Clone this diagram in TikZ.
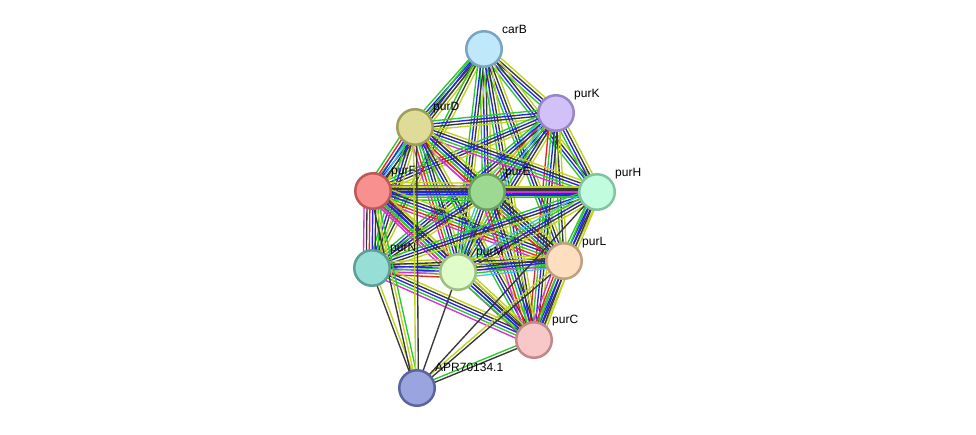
\documentclass[tikz,border=0pt]{standalone}
\usepackage{fontspec}
\setmainfont{Liberation Sans}
\usetikzlibrary{calc}
% evidence colours
\definecolor{cy}{RGB}{60,200,225}
\definecolor{mg}{RGB}{215,50,215}
\definecolor{rd}{RGB}{235,35,35}
\definecolor{gn}{RGB}{45,200,45}
\definecolor{bl}{RGB}{35,35,235}
\definecolor{bk}{RGB}{55,55,55}
\definecolor{yl}{RGB}{190,210,30}
% node colours
\definecolor{carBf}{RGB}{192,232,251}\definecolor{carBd}{RGB}{122,164,192}
\definecolor{purKf}{RGB}{210,192,248}\definecolor{purKd}{RGB}{152,134,200}
\definecolor{purDf}{RGB}{222,220,150}\definecolor{purDd}{RGB}{160,158,92}
\definecolor{purFf}{RGB}{249,144,144}\definecolor{purFd}{RGB}{190,88,88}
\definecolor{purEf}{RGB}{158,217,145}\definecolor{purEd}{RGB}{104,160,96}
\definecolor{purHf}{RGB}{194,252,222}\definecolor{purHd}{RGB}{128,196,160}
\definecolor{purNf}{RGB}{151,222,214}\definecolor{purNd}{RGB}{90,160,151}
\definecolor{purMf}{RGB}{224,252,200}\definecolor{purMd}{RGB}{160,192,128}
\definecolor{purLf}{RGB}{253,223,192}\definecolor{purLd}{RGB}{192,160,128}
\definecolor{purCf}{RGB}{248,200,200}\definecolor{purCd}{RGB}{192,136,136}
\definecolor{aprf}{RGB}{154,164,222}\definecolor{aprd}{RGB}{90,100,160}
\pgfdeclarelayer{bg}
\pgfsetlayers{bg,main}

% one bundle of parallel evidence lines between two nodes
\newcommand{\strlink}[3]{%
	\foreach \lc [count=\i] in {#3} {\xdef\nlinks{\i}}%
	\foreach \lc [count=\i] in {#3} {%
		\pgfmathsetmacro{\off}{(\i-(\nlinks+1)/2)*2.9}%
		\draw[link, draw=\lc] ($(#1)!\off pt!90:(#2)$) -- ($(#2)!\off pt!-90:(#1)$);%
	}%
}

\begin{document}
\begin{tikzpicture}[x=1pt, y=-1pt]
		\tikzstyle{prot}=[circle, line width=2.5pt, minimum size=35.5pt, inner sep=0pt]
		\tikzstyle{lbl}=[anchor=base west, inner sep=0pt, font=\fontsize{12}{14}\selectfont]
		\tikzstyle{link}=[line width=1.35pt]

		\useasboundingbox (0,0) rectangle (976,434);

		\node[prot, fill=carBf, draw=carBd](carB) at (484,49) {};
		\node[prot, fill=purKf, draw=purKd](purK) at (556,113) {};
		\node[prot, fill=purDf, draw=purDd](purD) at (415,127) {};
		\node[prot, fill=purFf, draw=purFd](purF) at (373,191) {};
		\node[prot, fill=purEf, draw=purEd](purE) at (487,192) {};
		\node[prot, fill=purHf, draw=purHd](purH) at (597,192) {};
		\node[prot, fill=purNf, draw=purNd](purN) at (372,268) {};
		\node[prot, fill=purMf, draw=purMd](purM) at (458,272) {};
		\node[prot, fill=purLf, draw=purLd](purL) at (564,261) {};
		\node[prot, fill=purCf, draw=purCd](purC) at (534,340) {};
		\node[prot, fill=aprf, draw=aprd](apr) at (417,388) {};

		% labels
		\node[lbl](carBl) at ([shift={(18,-16)}]carB.center) {carB};
		\node[lbl](purKl) at ([shift={(18,-16)}]purK.center) {purK};
		\node[lbl](purDl) at ([shift={(18,-17)}]purD.center) {purD};
		\node[lbl](purFl) at ([shift={(18,-17)}]purF.center) {purF};
		\node[lbl](purEl) at ([shift={(18,-17)}]purE.center) {purE};
		\node[lbl](purHl) at ([shift={(18,-16)}]purH.center) {purH};
		\node[lbl](purNl) at ([shift={(18,-17)}]purN.center) {purN};
		\node[lbl](purMl) at ([shift={(18,-17)}]purM.center) {purM};
		\node[lbl](purLl) at ([shift={(18,-16)}]purL.center) {purL};
		\node[lbl](purCl) at ([shift={(18,-17)}]purC.center) {purC};
		\node[lbl](aprl) at ([shift={(18,-17)}]apr.center) {APR70134.1};

		\begin{pgfonlayer}{bg}
			% carB
			\strlink{carB}{purK}{gn,bl,bk,yl}
			\strlink{carB}{purD}{gn,bl,bk,yl}
			\strlink{carB}{purF}{gn,bl,bk,yl}
			\strlink{carB}{purE}{gn,bl,bk,yl}
			\strlink{carB}{purH}{gn,bl,bk,yl}
			\strlink{carB}{purN}{gn,bk,yl}
			\strlink{carB}{purM}{gn,bl,bk,yl}
			\strlink{carB}{purL}{gn,bl,bk,yl}
			\strlink{carB}{purC}{gn,bl,bk,yl}

			% purK
			\strlink{purK}{purD}{gn,bl,bk,yl}
			\strlink{purK}{purF}{gn,bl,bk,yl}
			\strlink{purK}{purE}{cy,rd,gn,bl,bk,yl}
			\strlink{purK}{purH}{gn,bl,bk,yl}
			\strlink{purK}{purN}{gn,bl,bk,yl}
			\strlink{purK}{purM}{cy,gn,bl,bk,yl}
			\strlink{purK}{purL}{gn,bk,yl}
			\strlink{purK}{purC}{rd,gn,bl,bk,yl}

			% purD
			\strlink{purD}{purF}{gn,rd,bl,cy,bk,yl}
			\strlink{purD}{purE}{mg,rd,gn,bl,bk,yl}
			\strlink{purD}{purH}{mg,gn,bl,bk,yl}
			\strlink{purD}{purN}{gn,bl,bk,yl}
			\strlink{purD}{purM}{mg,rd,gn,bl,bk,yl}
			\strlink{purD}{purL}{mg,rd,gn,bl,bk,yl}
			\strlink{purD}{purC}{gn,bl,bk,yl}

			% purF
			\strlink{purF}{purE}{gn,gn,bl,bk,bk,mg,yl}
			\strlink{purF}{purH}{gn,bl,bk,yl}
			\strlink{purF}{purN}{mg,bk,rd,bl,bk,gn,yl}
			\strlink{purF}{purM}{mg,rd,gn,bl,bk,yl}
			\strlink{purF}{purL}{mg,rd,gn,bl,bk,yl}
			\strlink{purF}{purC}{mg,gn,bl,bk,yl}

			% purE
			\strlink{purE}{purH}{gn,bl,mg,bk,yl}
			\strlink{purE}{purN}{gn,bl,bk,yl}
			\strlink{purE}{purM}{cy,gn,bl,bk,yl}
			\strlink{purE}{purL}{rd,gn,bl,bk,bk,yl}
			\strlink{purE}{purC}{mg,rd,gn,bl,bk,yl}

			% purH
			\strlink{purH}{purN}{gn,bl,bk,yl}
			\strlink{purH}{purM}{cy,gn,bl,bk,yl}
			\strlink{purH}{purL}{gn,bl,bk,yl}
			\strlink{purH}{purC}{gn,bl,bk,yl}

			% purN, purM, purL
			\strlink{purN}{purM}{rd,gn,bl,bk,yl}
			\strlink{purN}{purL}{mg,gn,bl,bk,yl}
			\strlink{purN}{purC}{mg,gn,bl,bk,yl}
			\strlink{purM}{purL}{cy,gn,bl,bk,yl}
			\strlink{purM}{purC}{gn,bl,bk,yl}
			\strlink{purL}{purC}{mg,rd,gn,bl,bk,yl}

			% APR70134.1
			\strlink{apr}{purN}{yl,bk}
			\strlink{apr}{purF}{gn,yl,bk}
			\strlink{apr}{purD}{bk,yl}
			\strlink{apr}{purM}{bk}
			\strlink{apr}{purL}{bk,yl}
			\strlink{apr}{purH}{bk}
			\strlink{apr}{purC}{bk,gn}
		\end{pgfonlayer}

\end{tikzpicture}
\end{document}
